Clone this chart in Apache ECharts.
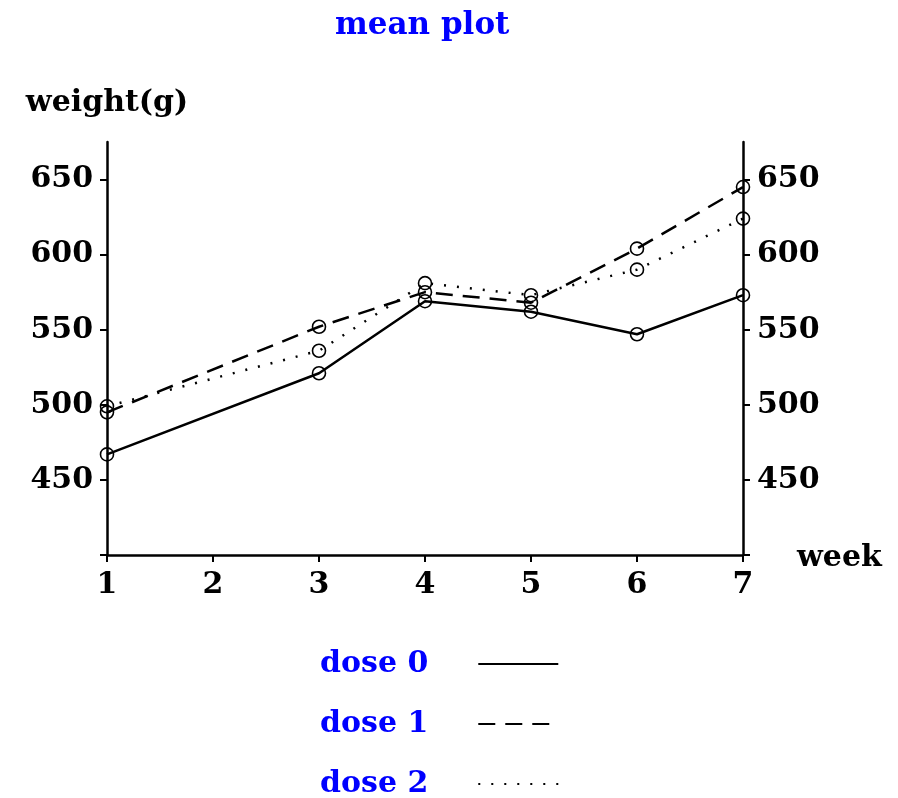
<!DOCTYPE html>
<html>
<head>
<meta charset="utf-8">
<script src="https://cdn.jsdelivr.net/npm/echarts@6/dist/echarts.min.js"></script>
<style>
  html, body { margin: 0; padding: 0; background: #fff; }
  #chart { width: 898px; height: 798px; }
</style>
</head>
<body>
<div id="chart"></div>
<script>
const weeks = [1, 3, 4, 5, 6, 7]
const dose0 = [467, 521, 569, 562, 547, 573]
const dose1 = [495, 552, 575, 568, 604, 645]
const dose2 = [499, 536, 581, 573, 590, 624]
const xTicks = [1, 2, 3, 4, 5, 6, 7]
const yTicks = [400, 450, 500, 550, 600, 650]
const yLabels = [450, 500, 550, 600, 650]

const font = 'DejaVu Serif'
const pair = arr => weeks.map((w, i) => [w, arr[i]])

const chart = echarts.init(document.getElementById('chart'))

function lineSeries(name, data, type) {
    return {
        name: name,
        type: 'line',
        data: pair(data),
        symbol: 'circle',
        symbolSize: 13,
        itemStyle: {
            color: 'rgba(0,0,0,0)',
            borderColor: '#000',
            borderWidth: 1.6
        },
        lineStyle: {
            color: '#000',
            width: 2.5,
            type: type
        },
        emphasis: { disabled: true },
        animation: false
    }
}

const yAxisBase = {
    type: 'value',
    min: 400,
    max: 675,
    interval: 50,
    splitLine: { show: false },
    axisLine: { show: true, lineStyle: { color: '#000', width: 2.5 } },
    axisTick: { show: true, length: 7, customValues: yTicks, lineStyle: { color: '#000', width: 2 } },
    axisLabel: {
        customValues: yLabels,
        margin: 14,
        color: '#000',
        fontFamily: font,
        fontWeight: 'bold',
        fontSize: 30
    }
}

const option = {
    backgroundColor: '#fff',
    title: {
        text: 'mean plot',
        left: 330,
        top: 5,
        textStyle: { color: '#0000ff', fontFamily: font, fontWeight: 'bold', fontSize: 31 }
    },
    grid: { left: 107, right: 155, top: 142, bottom: 243 },
    xAxis: {
        type: 'value',
        min: 1,
        max: 7,
        interval: 1,
        name: 'week',
        nameLocation: 'end',
        nameGap: 54,
        nameTextStyle: {
            color: '#000', fontFamily: font, fontWeight: 'bold', fontSize: 30,
            verticalAlign: 'top', padding: [-12, 0, 0, 0]
        },
        splitLine: { show: false },
        axisLine: { lineStyle: { color: '#000', width: 2.5 } },
        axisTick: { length: 7, customValues: xTicks, lineStyle: { color: '#000', width: 2 } },
        axisLabel: {
            customValues: xTicks,
            margin: 15,
            color: '#000',
            fontFamily: font,
            fontWeight: 'bold',
            fontSize: 30
        }
    },
    yAxis: [
        Object.assign({}, yAxisBase, {
            position: 'left',
            name: 'weight(g)',
            nameLocation: 'end',
            nameGap: 24,
            nameTextStyle: { color: '#000', fontFamily: font, fontWeight: 'bold', fontSize: 30 }
        }),
        Object.assign({}, yAxisBase, { position: 'right' })
    ],
    legend: {
        orient: 'vertical',
        left: 320,
        top: 649,
        height: 160,
        padding: 0,
        align: 'right',
        itemWidth: 80,
        itemHeight: 14,
        itemGap: 30,
        selectedMode: false,
        itemStyle: { opacity: 0 },
        textStyle: {
            color: '#0000ff',
            fontFamily: font,
            fontWeight: 'bold',
            fontSize: 30,
            padding: [0, 45, 0, 0]
        },
        data: ['dose 0', 'dose 1', 'dose 2']
    },
    series: [
        lineSeries('dose 0', dose0, 'solid'),
        lineSeries('dose 1', dose1, [17, 10]),
        lineSeries('dose 2', dose2, [2, 11])
    ]
}

chart.setOption(option)
</script>
</body>
</html>
